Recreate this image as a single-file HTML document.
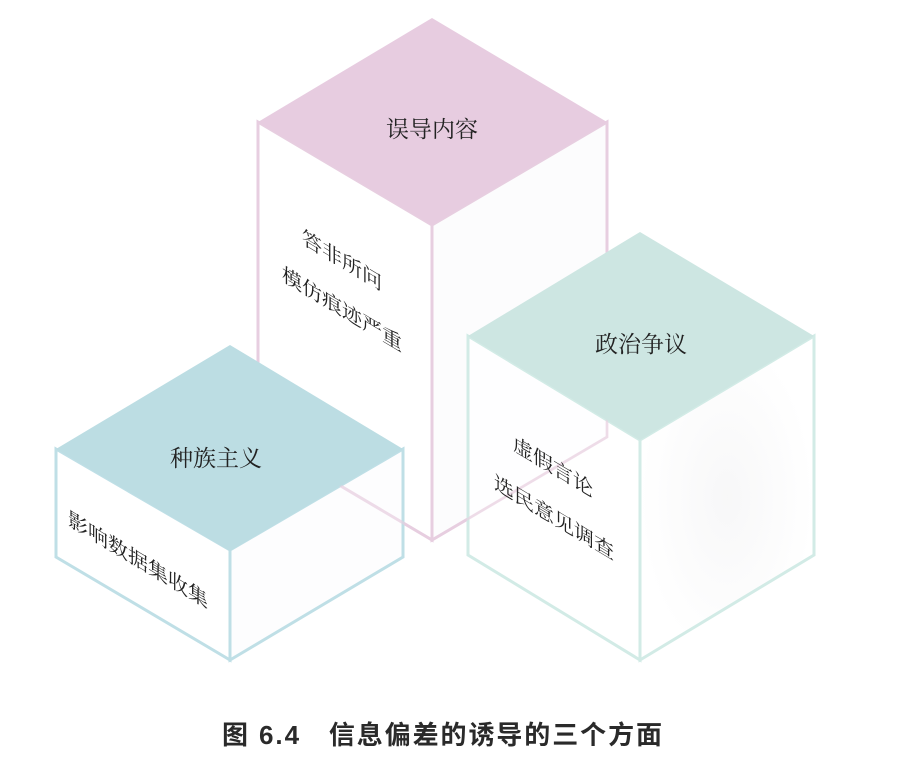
<!DOCTYPE html>
<html><head><meta charset="utf-8"><style>
html,body{margin:0;padding:0;background:#fff;}
svg{display:block;}
.s{font-family:"Liberation Serif","Noto Serif CJK SC",serif;fill:#222;}
</style></head><body>
<svg width="916" height="776" viewBox="0 0 916 776" xmlns="http://www.w3.org/2000/svg">
<defs>
<radialGradient id="g" cx="0.5" cy="0.5" r="0.5"><stop offset="0" stop-color="#f6f6f7"/><stop offset="1" stop-color="#fff"/></radialGradient>
</defs>
<!-- pink cube -->
<g stroke="#e7cee0" stroke-width="3" fill="#fff">
<polygon points="258,122 432,225 432,540 258,437"/>
<polygon points="432,225 607,122 607,437 432,540" fill="#fcfcfd"/>
</g>
<polygon points="258,122 432,18 607,122 432,225" fill="#e7cce0"/>
<text class="s" x="432" y="137" font-size="23" text-anchor="middle">误导内容</text>
<g class="s" font-size="20" transform="matrix(1,0.6,0,1,0,0)">
<text x="302" y="62">答非所问</text>
<text x="282" y="111">模仿痕迹严重</text>
</g>
<!-- blue cube -->
<g stroke="#bfdfe6" stroke-width="3">
<polygon points="56,449 230,550 230,660 56,557" fill="#fff" fill-opacity="0.9"/>
<polygon points="230,550 403,449 403,557 230,660" fill="#fcfcfd" fill-opacity="0.7"/>
</g>
<line x1="258" y1="437" x2="432" y2="540" stroke="#e7cee0" stroke-width="3" stroke-opacity="0.6"/>
<polygon points="56,449 230,345 403,449 230,551" fill="#bcdde3"/>
<text class="s" x="216" y="466" font-size="23" text-anchor="middle">种族主义</text>
<g class="s" font-size="20" transform="matrix(1,0.6,0,1,0,0)">
<text x="68" y="484">影响数据集收集</text>
</g>
<!-- teal cube -->
<g stroke="#d2ebe6" stroke-width="3">
<polygon points="468,336 640,440 640,660 468,555" fill="#fff" fill-opacity="0.7"/>
<polygon points="640,440 814,336 814,555 640,660" fill="url(#g)" fill-opacity="0.85"/>
</g>
<polyline points="432,540 607,437 607,336" fill="none" stroke="#e7cee0" stroke-width="2.5" stroke-opacity="0.6"/>
<polygon points="468,336 640,232 814,336 640,440" fill="#cde6e2"/>
<text class="s" x="641" y="352" font-size="23" text-anchor="middle">政治争议</text>
<g class="s" font-size="20" transform="matrix(1,0.6,0,1,0,0)">
<text x="513" y="142">虚假言论</text>
<text x="494" y="192">选民意见调查</text>
</g>
<text x="222" y="744" textLength="440" lengthAdjust="spacing" font-family="'Liberation Sans','Noto Sans CJK SC',sans-serif" font-size="26" font-weight="600" fill="#2a2a2a">图 6.4　信息偏差的诱导的三个方面</text>
</svg>
</body></html>
